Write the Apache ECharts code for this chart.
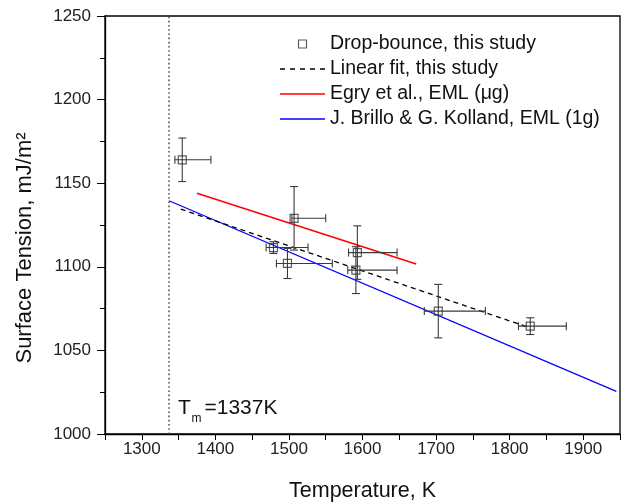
<!DOCTYPE html>
<html>
<head>
<meta charset="utf-8">
<script src="https://cdn.jsdelivr.net/npm/echarts@6/dist/echarts.min.js"></script>
<style>
html,body{margin:0;padding:0;background:#fff;}
#chart{width:628px;height:502px;}
</style>
</head>
<body>
<div id="chart"></div>
<script>
// ---- data ----
const temps      = [1355, 1507, 1479, 1498, 1593, 1591, 1703, 1828];
const tension    = [1164, 1129, 1111.5, 1102, 1108.5, 1098, 1073.5, 1064.5];
const tErrMinus  = [10, 3, 10, 15, 12, 11, 19, 16];
const tErrPlus   = [39, 43, 47, 61, 54, 56, 64, 49];
const sErr       = [13, 19, 3.5, 9, 16, 14, 16, 5];

const fitT   = [1353, 1823];
const fitS   = [1134.5, 1064.2];
const egryT  = [1375, 1673];
const egryS  = [1144, 1101.7];
const brilloT = [1337, 1945];
const brilloS = [1139.5, 1025.5];
const meltT = 1337;

const seriesNames = ['Drop-bounce, this study', 'Linear fit, this study', 'Egry et al., EML (\u03bcg)', 'J. Brillo & G. Kolland, EML (1g)'];
const xTickLabels = [1300, 1400, 1500, 1600, 1700, 1800, 1900];
const yTickLabels = [1000, 1050, 1100, 1150, 1200, 1250];

const FONT = '"Liberation Sans", Arial, Helvetica, sans-serif';
const pairs = (a, b) => a.map((v, i) => [v, b[i]]);

const chart = echarts.init(document.getElementById('chart'), null, {renderer: 'canvas'});

const errData = temps.map((t, i) => [t, tension[i], tErrMinus[i], tErrPlus[i], sErr[i]]);

function renderErr(params, api) {
  const t = api.value(0), s = api.value(1), em = api.value(2), ep = api.value(3), se = api.value(4);
  const c = api.coord([t, s]);
  const top = api.coord([t, s + se]);
  const bot = api.coord([t, s - se]);
  const lft = api.coord([t - em, s]);
  const rgt = api.coord([t + ep, s]);
  const cap = 4;
  const st = {stroke: '#3a3a3a', lineWidth: 1.1};
  const L = (x1, y1, x2, y2) => ({type: 'line', shape: {x1, y1, x2, y2}, style: st});
  return {
    type: 'group',
    children: [
      L(c[0], top[1], c[0], bot[1]),
      L(c[0] - cap, top[1], c[0] + cap, top[1]),
      L(c[0] - cap, bot[1], c[0] + cap, bot[1]),
      L(lft[0], c[1], rgt[0], c[1]),
      L(lft[0], c[1] - cap, lft[0], c[1] + cap),
      L(rgt[0], c[1] - cap, rgt[0], c[1] + cap)
    ]
  };
}

const SOLID_ICON = 'path://M0,0H45V1.4H0Z';
const DASH_ICON = 'path://M0,0H5V1.3H0Z M10,0H15V1.3H10Z M20,0H25V1.3H20Z M30,0H35V1.3H30Z M40,0H45V1.3H40Z';

const option = {
  backgroundColor: '#fff',
  animation: false,
  textStyle: {fontFamily: FONT},
  grid: {left: 105, right: 8, top: 16, bottom: 68, show: true, borderColor: '#000', borderWidth: 1.3,
         backgroundColor: 'transparent', outerBoundsMode: 'none', containLabel: false},
  xAxis: {
    type: 'value', min: 1250, max: 1950, interval: 50,
    name: 'Temperature, K', nameLocation: 'middle', nameGap: 46,
    nameTextStyle: {fontSize: 21.5, color: '#111', fontFamily: FONT},
    axisLine: {show: true, lineStyle: {color: '#000', width: 1.3}},
    axisTick: {show: true, inside: false, length: 6, lineStyle: {color: '#000', width: 1}},
    axisLabel: {fontSize: 17, color: '#222', margin: 7, fontFamily: FONT,
      formatter: v => xTickLabels.indexOf(v) >= 0 ? String(v) : ''},
    splitLine: {show: false}
  },
  yAxis: {
    type: 'value', min: 1000, max: 1250, interval: 50,
    axisLine: {show: true, lineStyle: {color: '#000', width: 1.3}},
    axisTick: {show: true, inside: false, length: 8, lineStyle: {color: '#000', width: 1}},
    minorTick: {show: true, splitNumber: 2, length: 5, lineStyle: {color: '#000', width: 1}},
    axisLabel: {fontSize: 17, color: '#222', margin: 14, fontFamily: FONT,
      formatter: v => yTickLabels.indexOf(v) >= 0 ? String(v) : ''},
    splitLine: {show: false}
  },
  legend: {
    orient: 'vertical', left: 280, top: 34, padding: 0,
    itemWidth: 45, itemHeight: 8, itemGap: 5,
    textStyle: {fontSize: 19.5, lineHeight: 19, color: '#111', fontFamily: FONT},
    data: [
      {name: seriesNames[0], icon: 'path://M0,0L10,0L10,10L0,10Z',
       itemStyle: {color: 'rgba(255,255,255,0)', borderColor: '#333', borderWidth: 1.2}},
      {name: seriesNames[1], icon: DASH_ICON, itemStyle: {color: '#000', borderWidth: 0}},
      {name: seriesNames[2], icon: SOLID_ICON, itemStyle: {color: '#ff0000', borderWidth: 0}},
      {name: seriesNames[3], icon: SOLID_ICON, itemStyle: {color: '#0000ff', borderWidth: 0}}
    ]
  },
  series: [
    {
      name: 'Tm', type: 'line', data: [[meltT, 1000], [meltT, 1250]],
      symbol: 'none', silent: true,
      lineStyle: {color: '#555', width: 1.6, type: [1.6, 2.6]}, z: 1
    },
    {
      name: seriesNames[3], type: 'line', data: pairs(brilloT, brilloS),
      symbol: 'none', color: '#0000ff', lineStyle: {color: '#0000ff', width: 1.3}, z: 2
    },
    {
      name: seriesNames[2], type: 'line', data: pairs(egryT, egryS),
      symbol: 'none', color: '#ff0000', lineStyle: {color: '#ff0000', width: 1.5}, z: 2
    },
    {
      name: seriesNames[1], type: 'line', data: pairs(fitT, fitS),
      symbol: 'none', color: '#000', lineStyle: {color: '#000', width: 1.3, type: [5, 4]}, z: 3
    },
    {
      name: 'errors', type: 'custom', data: errData, renderItem: renderErr, z: 4, silent: true,
      encode: {x: 0, y: 1}
    },
    {
      name: seriesNames[0], type: 'scatter', data: pairs(temps, tension),
      symbol: 'rect', symbolSize: 8,
      itemStyle: {color: 'rgba(255,255,255,0)', borderColor: '#333', borderWidth: 1.2}, z: 5
    }
  ],
  graphic: [
    {
      type: 'text', x: 25, y: 248, rotation: Math.PI / 2,
      style: {text: 'Surface Tension, mJ/m\u00b2', font: '22px ' + FONT, fill: '#111',
        textAlign: 'center', textVerticalAlign: 'middle'}
    },
    {
      type: 'text', x: 178, y: 408.5,
      style: {text: 'T', font: '21px ' + FONT, fill: '#111', textAlign: 'left', textVerticalAlign: 'middle'}
    },
    {
      type: 'text', x: 191.5, y: 419,
      style: {text: 'm', font: '12px ' + FONT, fill: '#111', textAlign: 'left', textVerticalAlign: 'middle'}
    },
    {
      type: 'text', x: 204.5, y: 408.5,
      style: {text: '=1337K', font: '21px ' + FONT, fill: '#111', textAlign: 'left', textVerticalAlign: 'middle'}
    }
  ]
};

chart.setOption(option);
</script>
</body>
</html>
